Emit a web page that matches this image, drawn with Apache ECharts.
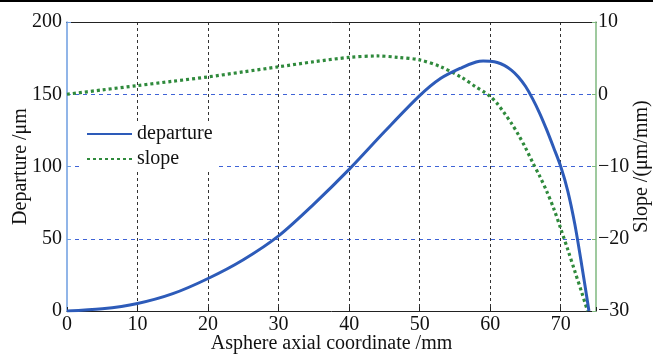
<!DOCTYPE html>
<html>
<head>
<meta charset="utf-8">
<script src="https://cdn.jsdelivr.net/npm/echarts@6/dist/echarts.min.js"></script>
<style>
  html, body { margin: 0; padding: 0; background: #fff; }
  #chart { width: 653px; height: 354px; }
</style>
</head>
<body>
<div id="chart"></div>
<script>
// axial coordinate (mm) and departure (um)
const depX = [0, 5, 10, 15, 20, 25, 30, 35, 40, 45, 50, 53, 56, 58, 59, 60, 61, 62, 63, 64, 65, 66, 67, 68, 69, 70, 71, 72, 73, 74];
const depY = [0, 1.5, 5.2, 12, 22.5, 35.5, 52, 74, 98, 124, 149, 161, 168.5, 172.3, 173, 172.8, 172, 170, 166.7, 162, 155.5, 147, 137, 125.5, 113, 100, 83, 60, 31, 0];

// slope (um/mm) on the right axis
const slopeX = [0, 5, 10, 15, 20, 25, 30, 35, 40, 44, 47, 50, 53, 56, 58, 59, 60, 61, 62, 63, 64, 65, 66, 67, 68, 69, 70, 71, 72, 73, 73.8];
const slopeY = [0, 0.6, 1.2, 1.8, 2.4, 3.1, 3.8, 4.5, 5.1, 5.3, 5.1, 4.75, 3.8, 2.3, 1.0, 0.4, -0.3, -1.3, -2.6, -4.0, -5.6, -7.4, -9.4, -11.3, -13.4, -15.8, -18.6, -21.5, -24.5, -27.5, -30];

const xTicks = [0, 10, 20, 30, 40, 50, 60, 70];
const leftTicks = [0, 50, 100, 150, 200];
const rightTicks = [-30, -20, -10, 0, 10];

const FONT = '"Liberation Serif", "DejaVu Serif", serif';

const zip = (xs, ys) => xs.map((x, i) => [x, ys[i]]);

const chart = echarts.init(document.getElementById('chart'));
chart.setOption({
    animation: false,
    textStyle: { fontFamily: FONT, color: '#111' },
    grid: {
        left: 67, right: 57, top: 22, bottom: 43,
        containLabel: false, outerBoundsMode: 'none'
    },
    graphic: [{
        type: 'line',
        shape: { x1: 0, y1: 1, x2: 653, y2: 1 },
        style: { stroke: '#000', lineWidth: 2 }
    }],
    legend: {
        left: 80, top: 122,
        orient: 'vertical',
        backgroundColor: '#fff',
        padding: [2, 6, 2, 6],
        itemWidth: 45, itemHeight: 10, itemGap: 5,
        itemStyle: { color: 'transparent', borderWidth: 0 },
        textStyle: { fontFamily: FONT, fontSize: 20, color: '#111' },
        data: ['departure', 'slope']
    },
    xAxis: [{
        type: 'value',
        min: 0, max: 75, interval: 10,
        name: 'Asphere axial coordinate /mm',
        nameLocation: 'middle', nameGap: 23, nameMoveOverlap: false,
        nameTextStyle: { fontFamily: FONT, fontSize: 20, color: '#111' },
        axisLine: { onZero: false, lineStyle: { color: '#222', width: 1 } },
        axisTick: { inside: true, length: 4, lineStyle: { color: '#222' } },
        axisLabel: {
            fontFamily: FONT, fontSize: 20, color: '#111', margin: 4,
            formatter: v => xTicks.includes(v) ? String(v) : ''
        },
        splitLine: {
            show: true, showMinLine: false, showMaxLine: false,
            lineStyle: { color: '#333', type: [3, 3], width: 1 }
        }
    }, {
        // plain top frame line
        type: 'value',
        position: 'top',
        min: 0, max: 75,
        axisLine: { show: true, onZero: false, lineStyle: { color: '#222', width: 1 } },
        axisTick: { show: false },
        axisLabel: { show: false },
        splitLine: { show: false }
    }],
    yAxis: [{
        type: 'value',
        position: 'left',
        min: leftTicks[0], max: leftTicks[leftTicks.length - 1], interval: 50,
        name: 'Departure /μm',
        nameLocation: 'middle', nameGap: 36, nameRotate: 90, nameMoveOverlap: false,
        nameTextStyle: { fontFamily: FONT, fontSize: 20, color: '#111' },
        axisLine: { show: true, onZero: false, lineStyle: { color: '#6d9ce0', width: 1.5 } },
        axisTick: { show: true, inside: true, length: 4, lineStyle: { color: '#6d9ce0' } },
        axisLabel: { fontFamily: FONT, fontSize: 20, color: '#111', margin: 5 },
        splitLine: {
            show: true, showMinLine: false, showMaxLine: false,
            lineStyle: { color: '#3f63d6', type: [4, 4], width: 1 }
        }
    }, {
        type: 'value',
        position: 'right',
        min: rightTicks[0], max: rightTicks[rightTicks.length - 1], interval: 10,
        name: 'Slope /(μm/mm)',
        nameLocation: 'middle', nameGap: 36, nameRotate: 90, nameMoveOverlap: false,
        nameTextStyle: { fontFamily: FONT, fontSize: 20, color: '#111' },
        axisLine: { show: true, onZero: false, lineStyle: { color: '#7fb87f', width: 1.5 } },
        axisTick: { show: true, inside: true, length: 4, lineStyle: { color: '#7fb87f' } },
        axisLabel: {
            fontFamily: FONT, fontSize: 20, color: '#111', margin: 2,
            formatter: v => v < 0 ? '\u2212' + Math.abs(v) : String(v)
        },
        splitLine: { show: false }
    }],
    series: [{
        name: 'departure',
        type: 'line',
        yAxisIndex: 0,
        data: zip(depX, depY),
        smooth: 0.3,
        showSymbol: false, symbol: 'none',
        lineStyle: { color: '#2d5bb9', width: 3 },
        itemStyle: { color: '#2d5bb9' },
        z: 3
    }, {
        name: 'slope',
        type: 'line',
        yAxisIndex: 1,
        data: zip(slopeX, slopeY),
        smooth: 0.3,
        showSymbol: false, symbol: 'none',
        lineStyle: { color: '#2f8a3c', width: 3.2, type: [3, 3] },
        itemStyle: { color: '#2f8a3c' },
        z: 2
    }]
});
</script>
</body>
</html>
